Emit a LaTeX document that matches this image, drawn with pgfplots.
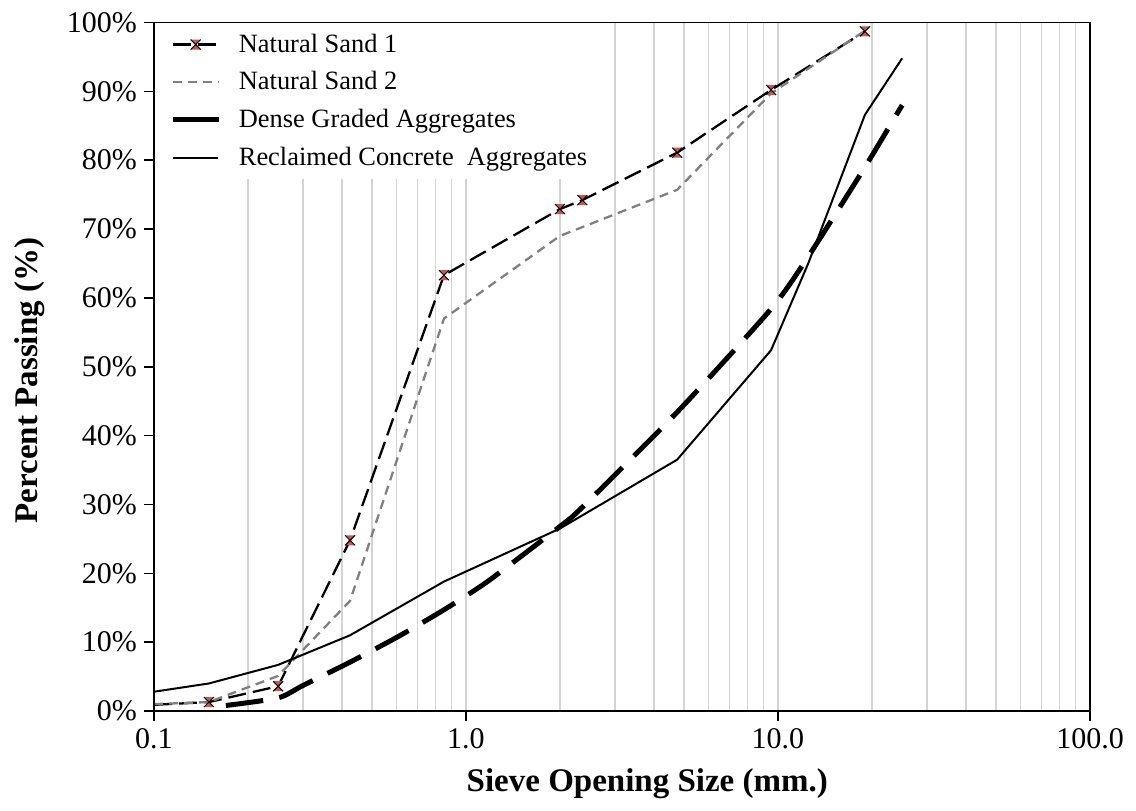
\documentclass[border=0pt]{standalone}
\usepackage{fontspec}
\setmainfont{Liberation Serif}
\usepackage{pgfplots}
\pgfplotsset{compat=1.18}

\definecolor{nsred}{RGB}{205,85,80}
\definecolor{gridgray}{RGB}{212,212,212}
\definecolor{ns2gray}{RGB}{128,128,128}

% hourglass marker: two filled triangles with a black cross
\pgfdeclareplotmark{hourglass}{%
  \pgfpathmoveto{\pgfqpoint{-\pgfplotmarksize}{\pgfplotmarksize}}%
  \pgfpathlineto{\pgfqpoint{\pgfplotmarksize}{\pgfplotmarksize}}%
  \pgfpathlineto{\pgfqpoint{-\pgfplotmarksize}{-\pgfplotmarksize}}%
  \pgfpathlineto{\pgfqpoint{\pgfplotmarksize}{-\pgfplotmarksize}}%
  \pgfpathclose
  \pgfusepathqfill
  \pgfpathmoveto{\pgfqpoint{-\pgfplotmarksize}{\pgfplotmarksize}}%
  \pgfpathlineto{\pgfqpoint{\pgfplotmarksize}{-\pgfplotmarksize}}%
  \pgfpathmoveto{\pgfqpoint{\pgfplotmarksize}{\pgfplotmarksize}}%
  \pgfpathlineto{\pgfqpoint{-\pgfplotmarksize}{-\pgfplotmarksize}}%
  \pgfusepathqstroke
}

\begin{document}
\begin{tikzpicture}
\begin{semilogxaxis}[
  scale only axis,
  width=468pt, height=344.25pt,
  xmin=0.1, xmax=100, ymin=0, ymax=100,
  xtick={0.1,1,10,100},
  xticklabels={0.1,1.0,10.0,100.0},
  ytick={0,10,...,100},
  yticklabels={0\%,10\%,20\%,30\%,40\%,50\%,60\%,70\%,80\%,90\%,100\%},
  tick label style={font=\fontsize{15}{18}\selectfont},
  xtick pos=bottom, ytick pos=left,
  tick align=outside,
  major tick length=5pt,
  minor tick length=0pt,
  tick style={black, line width=0.8pt},
  xmajorgrids, xminorgrids,
  grid style={gridgray, line width=0.7pt},
  minor grid style={gridgray, line width=0.7pt},
  axis line style={line width=0.6pt},
  xlabel={\bfseries Sieve Opening Size (mm.)},
  ylabel={\bfseries Percent Passing (\%)},
  label style={font=\fontsize{16.5}{19}\selectfont},
  x label style={at={(axis description cs:0.527,-0.105)}, anchor=center},
  y label style={at={(axis description cs:-0.1325,0.48)}, anchor=center},
  legend style={at={(axis description cs:0,1)}, anchor=north west,
    draw=none, fill=white, font=\fontsize{13.2}{15.5}\selectfont,
    row sep=4.2pt, inner xsep=8pt, inner ysep=3.5pt,
    /tikz/every odd column/.append style={column sep=7pt}},
  legend cell align=left,
  legend image code/.code={%
    \draw[mark indices={2}] plot coordinates {(0cm,0cm) (0.4cm,0cm) (0.8cm,0cm)};},
]
% Natural Sand 1
\addplot[black, line width=1.15pt, dash pattern=on 9pt off 3.5pt,
  mark=hourglass, mark size=2.5pt, mark indices={2,3,4,5,6,7,8,9,10},
  mark options={solid, fill=nsred, draw=black, line width=0.5pt}]
  coordinates {(0.1,0.9) (0.15,1.3) (0.25,3.6) (0.425,24.8) (0.85,63.3)
    (2.0,72.9) (2.36,74.2) (4.75,81.1) (9.5,90.2) (19,98.7)};
\addlegendentry{Natural Sand 1}
% Natural Sand 2
\addplot[ns2gray, line width=1.15pt, dash pattern=on 4.5pt off 3pt]
  coordinates {(0.1,1.0) (0.15,1.3) (0.25,5.1) (0.425,16.0) (0.85,57.0)
    (2.0,69.0) (4.75,75.7) (9.5,89.7) (19,98.8)};
\addlegendentry{Natural Sand 2}
% Dense Graded Aggregates
\addplot[black, line width=2.5pt, dash pattern=on 18.8pt off 8.2pt, smooth, tension=0.4,
  legend image post style={solid}]
  coordinates {(0.17,0.8) (0.25,1.9) (0.3,3.7) (0.425,7.1) (0.6,10.7)
    (0.85,14.7) (1.18,18.9) (2.0,26.8) (2.36,29.6) (4.75,43.4) (9.5,58.4)
    (12.5,66.0) (19,79.0) (25,88.0)};
\addlegendentry{Dense Graded Aggregates}
% Reclaimed Concrete Aggregates
\addplot[black, line width=1pt]
  coordinates {(0.1,2.8) (0.15,4.0) (0.25,6.7) (0.425,11.0) (0.85,18.8)
    (2.0,26.5) (4.75,36.5) (9.5,52.4) (12.5,65.0) (19,86.6) (25,94.8)};
\addlegendentry{Reclaimed Concrete~~Aggregates}
\end{semilogxaxis}
% frame redrawn over the legend fill; heavier left and bottom axis lines
\draw[line width=0.6pt] (current axis.south west) rectangle (current axis.north east);
\draw[line width=1pt] (current axis.north west) -- (current axis.south west) -- (current axis.south east);
% page extent
\path (current axis.south west) +(-77pt,-49.5pt);
\path (current axis.north east) +(23pt,11.25pt);
\end{tikzpicture}
\end{document}
